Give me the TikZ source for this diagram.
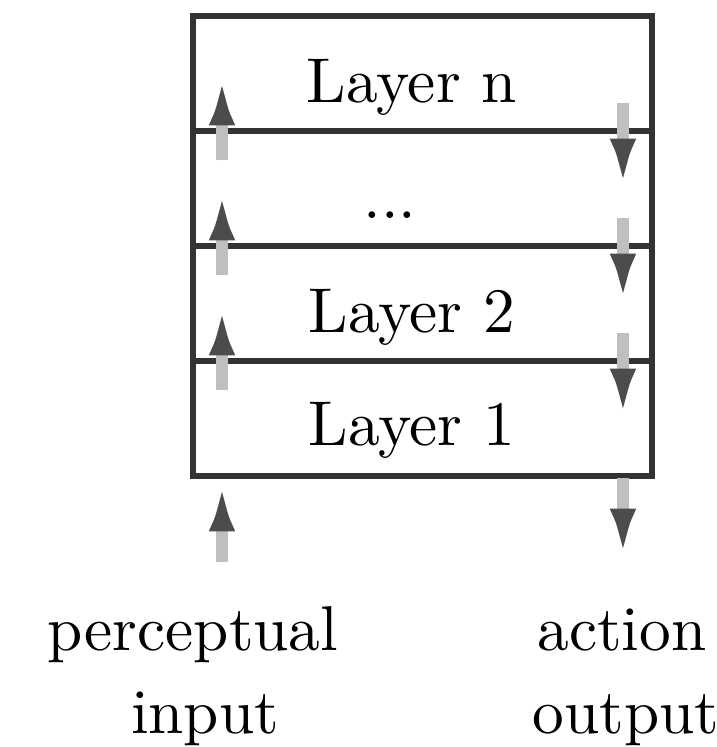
\documentclass[tikz,border=0pt]{standalone}
\usetikzlibrary{arrows.meta}
\begin{document}
\begin{tikzpicture}[x=0.15pt,y=-0.15pt,
  layerbox/.style={draw=black!80, line width=0.8pt, minimum width=68.85pt, minimum height=17.25pt, inner sep=0pt, outer sep=0pt},
  lbl/.style={anchor=base, inner sep=0pt, font=\fontsize{9.5}{12.45}\selectfont},
  flowarrow/.style={draw=gray!50, line width=1.8pt, -{Latex[length=8pt,width=3.8pt,color=black!70]}}]
\useasboundingbox (0,0) rectangle (717,747);
% layers
\node[layerbox] (L1) at (422.5,418.5) {};
\node[layerbox] (L2) at (422.5,303.5) {};
\node[layerbox] (Ld) at (422.5,188.5) {};
\node[layerbox] (Ln) at (422.5,73.5) {};
% labels
\node[lbl] (tn) at (412,102) {Layer n};
\node[lbl] (td) at (390,218) {...};
\node[lbl] (t2) at (412,332) {Layer 2};
\node[lbl] (t1) at (412,445) {Layer 1};
\node[lbl] (pin1) at (193,650) {perceptual};
\node[lbl] (pin2) at (205,733) {input};
\node[lbl] (aout1) at (622,650) {action};
\node[lbl] (aout2) at (626,733) {output};
% arrow ends
\coordinate (i1a) at (222,160); \coordinate (i1b) at (222,72);
\coordinate (i2a) at (222,275); \coordinate (i2b) at (222,187);
\coordinate (i3a) at (222,390); \coordinate (i3b) at (222,302);
\coordinate (i4a) at (222,562); \coordinate (i4b) at (222,478);
\coordinate (o1a) at (623,103); \coordinate (o1b) at (623,192);
\coordinate (o2a) at (623,218); \coordinate (o2b) at (623,307);
\coordinate (o3a) at (623,333); \coordinate (o3b) at (623,422);
\coordinate (o4a) at (623,478); \coordinate (o4b) at (623,562);
\draw[flowarrow] (i1a) -- (i1b);
\draw[flowarrow] (i2a) -- (i2b);
\draw[flowarrow] (i3a) -- (i3b);
\draw[flowarrow] (i4a) -- (i4b);
\draw[flowarrow] (o1a) -- (o1b);
\draw[flowarrow] (o2a) -- (o2b);
\draw[flowarrow] (o3a) -- (o3b);
\draw[flowarrow] (o4a) -- (o4b);
\end{tikzpicture}
\end{document}
